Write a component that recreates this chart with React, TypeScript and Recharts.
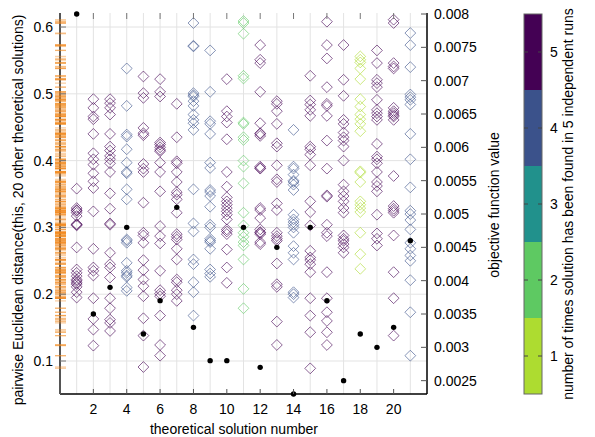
import React from 'react';
import { ScatterChart, Scatter, XAxis, YAxis, CartesianGrid } from 'recharts';

// ---------- data ----------
const solutionNumbers = [1, 2, 3, 4, 5, 6, 7, 8, 9, 10, 11, 12, 13, 14, 15, 16, 17, 18, 19, 20, 21];
const timesFound = [5, 5, 5, 4, 5, 5, 5, 4, 4, 5, 2, 5, 5, 4, 5, 5, 5, 1, 5, 5, 4];
const objectiveValues = [0.008, 0.0035, 0.0039, 0.0048, 0.0032, 0.0037, 0.0051, 0.0033, 0.0028, 0.0028, 0.0048,
  0.0027, 0.0045, 0.0023, 0.0048, 0.0037, 0.0025, 0.0032, 0.003, 0.0033, 0.0046];

const dist01 = [0.358, 0.329, 0.326, 0.322, 0.317, 0.305, 0.303, 0.27, 0.237, 0.232, 0.227, 0.222, 0.22, 0.217, 0.215, 0.211, 0.203, 0.195, 0.325, 0.304];
const dist02 = [0.492, 0.479, 0.466, 0.462, 0.44, 0.411, 0.402, 0.394, 0.381, 0.369, 0.359, 0.324, 0.268, 0.24, 0.235, 0.228, 0.194, 0.163, 0.147, 0.123];
const dist03 = [0.492, 0.486, 0.479, 0.469, 0.44, 0.421, 0.415, 0.407, 0.402, 0.396, 0.383, 0.351, 0.328, 0.306, 0.304, 0.262, 0.245, 0.24, 0.225, 0.194, 0.179, 0.162, 0.157, 0.145];
const dist04 = [0.538, 0.482, 0.439, 0.436, 0.417, 0.397, 0.383, 0.381, 0.357, 0.342, 0.282, 0.28, 0.277, 0.247, 0.235, 0.232, 0.228, 0.226, 0.21, 0.205];
const dist05 = [0.526, 0.501, 0.494, 0.449, 0.441, 0.438, 0.395, 0.388, 0.383, 0.337, 0.292, 0.288, 0.277, 0.251, 0.236, 0.222, 0.212, 0.197, 0.164, 0.138, 0.091];
const dist06 = [0.522, 0.503, 0.496, 0.427, 0.424, 0.42, 0.416, 0.414, 0.397, 0.383, 0.354, 0.302, 0.287, 0.276, 0.235, 0.206, 0.201, 0.197, 0.168, 0.124, 0.108];
const dist07 = [0.485, 0.435, 0.399, 0.396, 0.383, 0.368, 0.353, 0.349, 0.342, 0.322, 0.29, 0.286, 0.282, 0.268, 0.252, 0.222, 0.218, 0.206, 0.2, 0.19];
const dist08 = [0.606, 0.572, 0.571, 0.501, 0.498, 0.496, 0.489, 0.482, 0.469, 0.461, 0.456, 0.446, 0.357, 0.306, 0.294, 0.252, 0.245, 0.218, 0.203, 0.168];
const dist09 = [0.565, 0.503, 0.459, 0.455, 0.44, 0.397, 0.389, 0.356, 0.353, 0.347, 0.331, 0.304, 0.3, 0.283, 0.28, 0.278, 0.268, 0.237, 0.231, 0.226];
const dist10 = [0.522, 0.474, 0.466, 0.457, 0.432, 0.383, 0.361, 0.345, 0.339, 0.334, 0.329, 0.324, 0.319, 0.312, 0.297, 0.294, 0.29, 0.267, 0.24, 0.217];
const dist11 = [0.609, 0.606, 0.59, 0.527, 0.523, 0.457, 0.455, 0.435, 0.431, 0.4, 0.391, 0.366, 0.322, 0.303, 0.292, 0.286, 0.278, 0.273, 0.252, 0.208, 0.179];
const dist12 = [0.573, 0.551, 0.546, 0.503, 0.456, 0.441, 0.44, 0.437, 0.391, 0.389, 0.388, 0.329, 0.326, 0.314, 0.297, 0.293, 0.292, 0.29, 0.278, 0.275];
const dist13 = [0.489, 0.485, 0.474, 0.455, 0.426, 0.421, 0.393, 0.372, 0.368, 0.336, 0.326, 0.292, 0.287, 0.283, 0.28, 0.246, 0.215, 0.211, 0.159, 0.124];
const dist14 = [0.446, 0.391, 0.388, 0.379, 0.37, 0.368, 0.364, 0.356, 0.319, 0.312, 0.308, 0.304, 0.3, 0.292, 0.272, 0.262, 0.252, 0.203, 0.2, 0.195];
const dist15 = [0.527, 0.49, 0.484, 0.476, 0.467, 0.421, 0.417, 0.409, 0.393, 0.339, 0.323, 0.303, 0.265, 0.255, 0.251, 0.245, 0.233, 0.194, 0.168, 0.143, 0.089];
const dist16 = [0.608, 0.573, 0.553, 0.51, 0.485, 0.482, 0.467, 0.43, 0.388, 0.348, 0.346, 0.304, 0.292, 0.287, 0.233, 0.194, 0.173, 0.16, 0.143, 0.124];
const dist17 = [0.573, 0.521, 0.497, 0.461, 0.455, 0.442, 0.435, 0.43, 0.421, 0.4, 0.364, 0.354, 0.347, 0.339, 0.329, 0.322, 0.288, 0.283, 0.28, 0.275, 0.27, 0.262];
const dist18 = [0.556, 0.551, 0.547, 0.538, 0.522, 0.492, 0.481, 0.469, 0.462, 0.455, 0.444, 0.384, 0.382, 0.368, 0.339, 0.334, 0.329, 0.323, 0.292, 0.26, 0.238];
const dist19 = [0.565, 0.546, 0.521, 0.516, 0.51, 0.491, 0.476, 0.471, 0.466, 0.461, 0.425, 0.406, 0.402, 0.396, 0.383, 0.368, 0.362, 0.354, 0.319, 0.291, 0.283, 0.273];
const dist20 = [0.611, 0.606, 0.546, 0.541, 0.538, 0.479, 0.474, 0.471, 0.468, 0.466, 0.461, 0.377, 0.332, 0.328, 0.325, 0.322, 0.288, 0.233, 0.194, 0.138];
const dist21 = [0.591, 0.573, 0.54, 0.499, 0.495, 0.491, 0.484, 0.44, 0.402, 0.36, 0.325, 0.32, 0.311, 0.297, 0.277, 0.268, 0.258, 0.25, 0.221, 0.173, 0.108];

const xTicks = [2, 4, 6, 8, 10, 12, 14, 16, 18, 20];
const leftTicks = [0.1, 0.2, 0.3, 0.4, 0.5, 0.6];
const rightTicks = [0.0025, 0.003, 0.0035, 0.004, 0.0045, 0.005, 0.0055, 0.006, 0.0065, 0.007, 0.0075, 0.008];
const colorLevels = [1, 2, 3, 4, 5];
const levelColors = ['#addc30', '#5ec962', '#21918c', '#3b528b', '#440154'];

// ---------- derived tables ----------
const distanceColumns = [dist01, dist02, dist03, dist04, dist05, dist06, dist07, dist08, dist09, dist10, dist11,
  dist12, dist13, dist14, dist15, dist16, dist17, dist18, dist19, dist20, dist21];
const diamondData = distanceColumns.flatMap((vals, i) =>
  vals.map((v) => ({ x: solutionNumbers[i], y: v, found: timesFound[i] })));
const rugData = diamondData.map((d) => ({ x: 0, y: d.y }));
const objectiveData = solutionNumbers.map((n, i) => ({ x: n, obj: objectiveValues[i] }));

// ---------- styling ----------
const FONT = '"Liberation Sans", Arial, sans-serif';
const FS = 14;
const W = 595;
const H = 437;
const PLOT_TOP = 13;
const PLOT_BOTTOM = 394;
const CB = { x: 524, w: 18 };

const Diamond = (props: any) => {
  const { cx, cy, payload } = props;
  if (cx == null || cy == null) return null;
  const s = 5.4;
  const c = levelColors[payload.found - 1];
  return (
    <path d={`M${cx},${cy - s}L${cx + s},${cy}L${cx},${cy + s}L${cx - s},${cy}Z`}
      fill="none" stroke={c} strokeOpacity={0.62} strokeWidth={1} />
  );
};
const Rug = (props: any) => {
  const { cx, cy } = props;
  if (cx == null || cy == null) return null;
  return <line x1={cx - 5} x2={cx + 6} y1={cy} y2={cy} stroke="#f28a1e" strokeOpacity={0.4} strokeWidth={1.3} />;
};
const Dot = (props: any) => {
  const { cx, cy } = props;
  if (cx == null || cy == null) return null;
  return <circle cx={cx} cy={cy} r={2.7} fill="#000" />;
};

const BottomTick = (props: any) => {
  const { x, y, payload } = props;
  return (
    <g>
      <line x1={x} x2={x} y1={PLOT_TOP} y2={PLOT_TOP + 6} stroke="#777" strokeWidth={1} />
      <line x1={x} x2={x} y1={y - 5} y2={y} stroke="#555" strokeWidth={1} />
      <text x={x} y={y + 20} textAnchor="middle" fontFamily={FONT} fontSize={FS} fill="#000">{payload.value}</text>
    </g>
  );
};
const LeftTick = (props: any) => {
  const { x, y, payload } = props;
  return (
    <g>
      <line x1={x} x2={x + 6} y1={y} y2={y} stroke="#777" strokeWidth={1} />
      <text x={x - 7} y={y + 5} textAnchor="end" fontFamily={FONT} fontSize={FS} fill="#000">{payload.value}</text>
    </g>
  );
};
const RightTick = (props: any) => {
  const { x, y, payload } = props;
  return (
    <g>
      <line x1={x - 6} x2={x} y1={y} y2={y} stroke="#555" strokeWidth={1} />
      <text x={x + 7} y={y + 5} textAnchor="start" fontFamily={FONT} fontSize={FS} fill="#000">{String(payload.value)}</text>
    </g>
  );
};

const cbY = (v: number) => PLOT_BOTTOM - ((v - 0.5) / 5) * (PLOT_BOTTOM - PLOT_TOP - 1);

export default function App() {
  return (
    <div style={{ position: 'absolute', left: 0, top: 0, width: W, height: H, background: '#fff' }}>
      <ScatterChart width={W} height={H} margin={{ top: PLOT_TOP, right: 108, bottom: 13, left: 0 }}>
        <CartesianGrid yAxisId="left" stroke="#e3e3e3" strokeWidth={1}
          verticalValues={solutionNumbers} horizontalValues={leftTicks} />
        <XAxis xAxisId={0} dataKey="x" type="number" domain={[0, 22]} ticks={xTicks} height={30}
          tickSize={0} tickMargin={0} tick={<BottomTick />} axisLine={{ stroke: '#000', strokeWidth: 1.5 }} />
        <XAxis xAxisId="top" orientation="top" dataKey="x" type="number" domain={[0, 22]} ticks={xTicks}
          height={0} tick={false} tickLine={false} axisLine={{ stroke: '#777', strokeWidth: 2 }} />
        <YAxis yAxisId="left" dataKey="y" type="number" domain={[0.0506, 0.621]} ticks={leftTicks} width={60}
          tickSize={0} tickMargin={0} tick={<LeftTick />} axisLine={{ stroke: '#555', strokeWidth: 2 }} />
        <YAxis yAxisId="right" orientation="right" dataKey="obj" type="number" domain={[0.0023, 0.008015]}
          ticks={rightTicks} width={60} tickSize={0} tickMargin={0} tick={<RightTick />}
          axisLine={{ stroke: '#000', strokeWidth: 1.5 }} />
        <Scatter data={rugData} yAxisId="left" shape={<Rug />} isAnimationActive={false} />
        <Scatter data={diamondData} yAxisId="left" shape={<Diamond />} isAnimationActive={false} />
        <Scatter data={objectiveData} yAxisId="right" shape={<Dot />} isAnimationActive={false} />
      </ScatterChart>
      <svg width={W} height={H} style={{ position: 'absolute', left: 0, top: 0, pointerEvents: 'none' }}>
        <g fontFamily={FONT} fontSize={FS} fill="#000">
          <text transform="translate(23,210) rotate(-90)" textAnchor="middle">
            pairwise Euclidean distance(this, 20 other theoretical solutions)
          </text>
          <text x={234} y={434} textAnchor="middle">theoretical solution number</text>
          <text transform="translate(499,205) rotate(-90)" textAnchor="middle">
            objective function value
          </text>
          <text transform="translate(573,204) rotate(-90)" textAnchor="middle">
            number of times solution has been found in 5 independent runs
          </text>
        </g>
        {colorLevels.map((lv, i) => (
          <rect key={lv} x={CB.x} y={cbY(lv + 0.5)} width={CB.w} height={cbY(lv - 0.5) - cbY(lv + 0.5)}
            fill={levelColors[i]} />
        ))}
        <rect x={CB.x} y={cbY(5.5)} width={CB.w} height={cbY(0.5) - cbY(5.5)} fill="none" stroke="#666" strokeWidth={1} />
        {colorLevels.map((lv) => (
          <g key={'t' + lv}>
            <line x1={CB.x} x2={CB.x + 4} y1={cbY(lv)} y2={cbY(lv)} stroke="#444" strokeWidth={1} />
            <line x1={CB.x + CB.w - 4} x2={CB.x + CB.w} y1={cbY(lv)} y2={cbY(lv)} stroke="#444" strokeWidth={1} />
            <text x={CB.x + CB.w + 8} y={cbY(lv) + 5} fontFamily={FONT} fontSize={FS} fill="#000">{lv}</text>
          </g>
        ))}
      </svg>
    </div>
  );
}
